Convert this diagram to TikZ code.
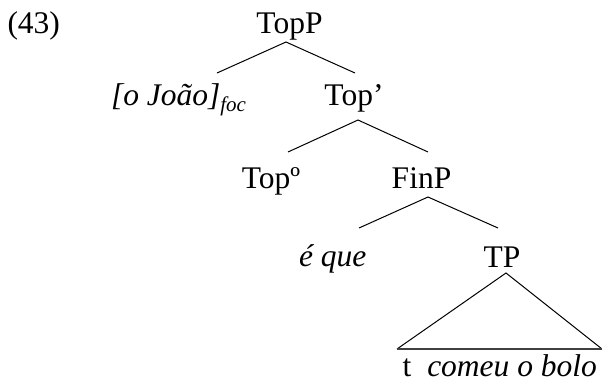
\documentclass[tikz,border=0pt]{standalone}
\usepackage{fontspec}
\setmainfont{Liberation Serif}
\begin{document}
\begin{tikzpicture}[x=1pt,y=-1pt,
  lbl/.style={inner sep=0pt, outer sep=0pt, font=\fontsize{31.5}{36}\selectfont},
  branch/.style={line width=1pt, black},
  base/.style={line width=1.3pt, black!75}]
\useasboundingbox (0,0) rectangle (602,380);
% labels
\node[lbl, anchor=base west] (ex) at (7.5,33) {(43)};
\node[lbl, anchor=base] (TopP) at (289.5,33) {TopP};
\node[lbl, anchor=base west] (foc) at (111,105) {\textit{[o João]}\raisebox{-6pt}{\fontsize{21}{24}\selectfont\textit{foc}}};
\node[lbl, anchor=base] (Topbar) at (354,105) {Top’};
\node[lbl, anchor=base] (Top0) at (271,188) {Topº};
\node[lbl, anchor=base] (FinP) at (421.5,188) {FinP};
\node[lbl, anchor=base west] (eque) at (299,266) {\textit{é que}};
\node[lbl, anchor=base] (TP) at (502,267) {TP};
\node[lbl, anchor=base west] (term) at (402.5,376) {t\hspace{16pt}\textit{comeu o bolo}};
% branch points
\coordinate (TopP-s) at (286,42);
\coordinate (foc-n) at (217,73);
\coordinate (Topbar-n) at (355,73);
\coordinate (Topbar-s) at (358,120);
\coordinate (Top0-n) at (288,152);
\coordinate (FinP-n) at (428,152);
\coordinate (FinP-s) at (428,197);
\coordinate (eque-n) at (359,228);
\coordinate (TP-n) at (498,228);
\coordinate (TP-s) at (506,273);
\coordinate (term-w) at (397,349);
\coordinate (term-e) at (602,349);
% connectors
\draw[branch] (foc-n) -- (TopP-s) -- (Topbar-n);
\draw[branch] (Top0-n) -- (Topbar-s) -- (FinP-n);
\draw[branch] (eque-n) -- (FinP-s) -- (TP-n);
\draw[branch] (term-w) -- (TP-s) -- (term-e);
\draw[base] (term-w) -- (term-e);
\end{tikzpicture}
\end{document}
